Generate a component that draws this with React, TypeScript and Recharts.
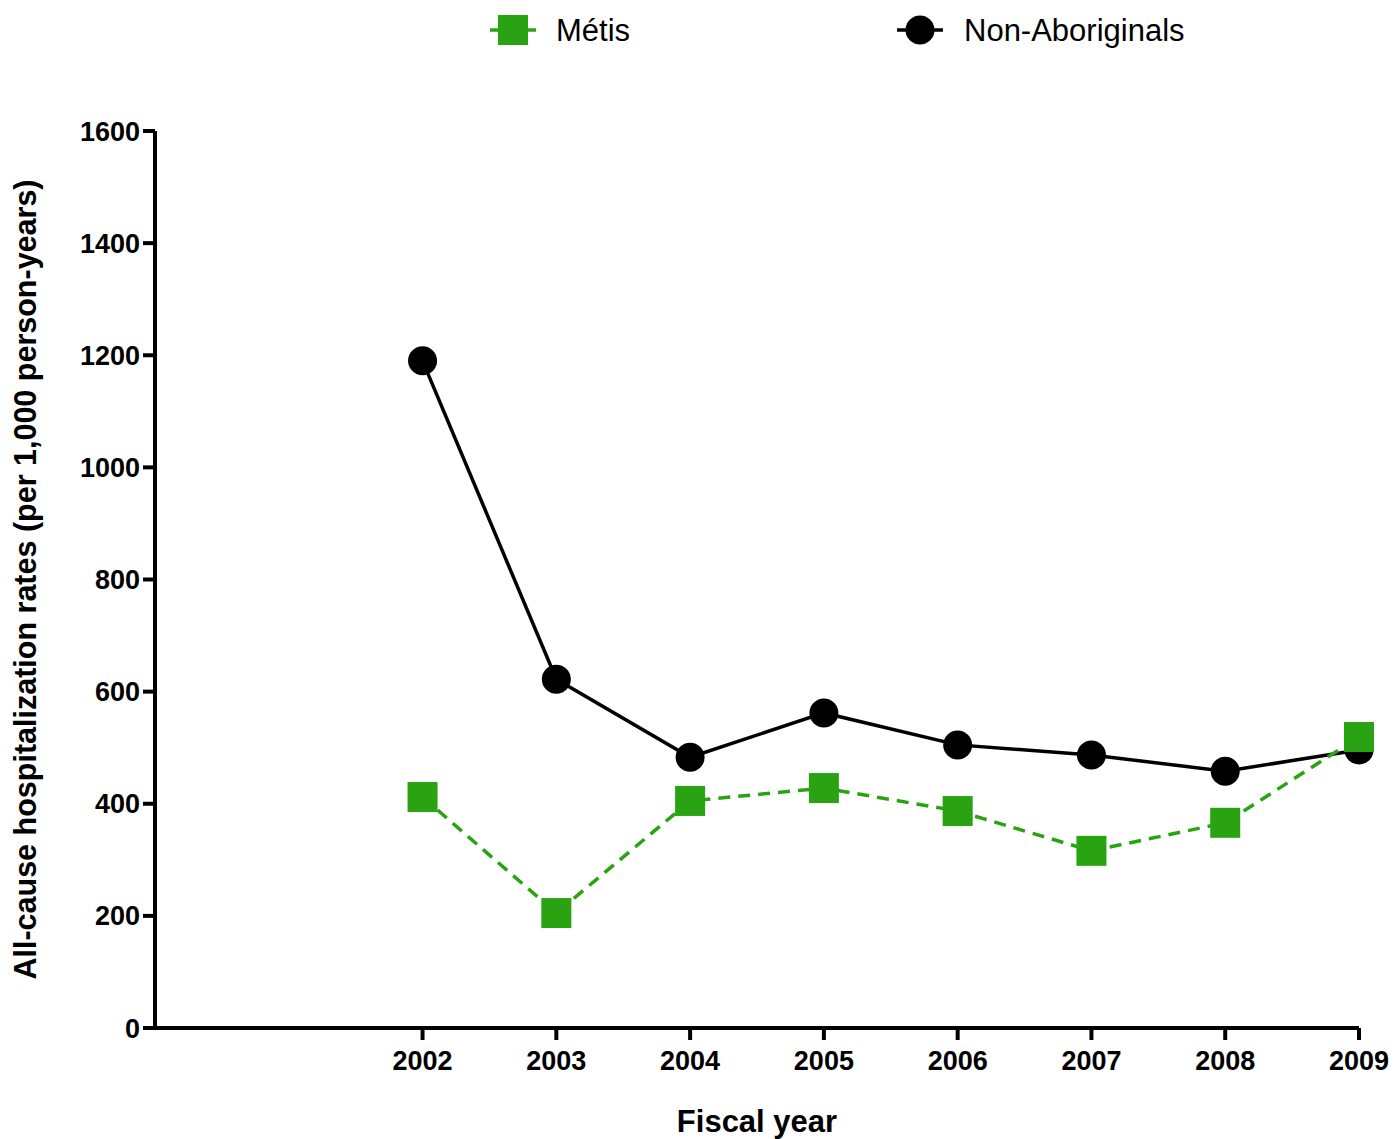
import React from "react";
import { LineChart, Line, XAxis, YAxis } from "recharts";

const years = [2002, 2003, 2004, 2005, 2006, 2007, 2008, 2009];
const metis = [412, 205, 405, 428, 387, 316, 366, 519];
const nonAboriginals = [1190, 622, 483, 562, 505, 487, 458, 496];
const yTicks = [0, 200, 400, 600, 800, 1000, 1200, 1400, 1600];

const data = years.map((y, i) => ({ year: y, metis: metis[i], non: nonAboriginals[i] }));

const GREEN = "#29a312";
const FONT = "'Liberation Sans', Arial, sans-serif";

const SquareDot = (props: any) => {
  const { cx, cy, index } = props;
  if (cx == null || cy == null) return null;
  return <rect key={`sq-${index}`} x={cx - 15} y={cy - 15} width={30} height={30} fill={GREEN} />;
};

const CircleDot = (props: any) => {
  const { cx, cy, index } = props;
  if (cx == null || cy == null) return null;
  return <circle key={`ci-${index}`} cx={cx} cy={cy} r={14.5} fill="#000" />;
};

const LegendBox = () => (
  <svg width={1395} height={60} style={{ position: "absolute", left: 0, top: 0, display: "block" }}>
    <line x1={490} y1={30} x2={536} y2={30} stroke={GREEN} strokeWidth={3.5} />
    <rect x={498} y={15} width={30} height={30} fill={GREEN} />
    <text x={556} y={30} dominantBaseline="central" fontFamily={FONT} fontSize={31} fill="#000">Métis</text>
    <line x1={897} y1={30} x2={943} y2={30} stroke="#000" strokeWidth={3.5} />
    <circle cx={920} cy={30} r={14.5} fill="#000" />
    <text x={964} y={30} dominantBaseline="central" fontFamily={FONT} fontSize={31} fill="#000">Non-Aboriginals</text>
  </svg>
);

export default function App() {
  return (
    <div style={{ position: "absolute", left: 0, top: 0, width: 1395, height: 1139, background: "#fff" }}>
      <LineChart width={1395} height={1139} data={data} margin={{ top: 131, right: 36, bottom: 0, left: 0 }}>
        <XAxis
          dataKey="year"
          type="number"
          domain={[2000, 2009]}
          ticks={years}
          height={111}
          axisLine={{ stroke: "#000", strokeWidth: 4 }}
          tickLine={{ stroke: "#000", strokeWidth: 4 }}
          tickSize={12}
          tickMargin={11}
          tick={{ fill: "#000", fontFamily: FONT, fontSize: 27, fontWeight: "bold" }}
          label={{
            content: (p: any) => {
              const vb = p.viewBox || {};
              return (
                <text x={vb.x + vb.width / 2} y={vb.y + 93} textAnchor="middle" dominantBaseline="central"
                  fontFamily={FONT} fontSize={31} fontWeight="bold" fill="#000">Fiscal year</text>
              );
            },
          }}
        />
        <YAxis
          type="number"
          domain={[0, 1600]}
          ticks={yTicks}
          width={155}
          axisLine={{ stroke: "#000", strokeWidth: 4 }}
          tickLine={{ stroke: "#000", strokeWidth: 4 }}
          tickSize={12}
          tickMargin={3}
          tick={{ fill: "#000", fontFamily: FONT, fontSize: 27, fontWeight: "bold" }}
          label={{
            content: (p: any) => {
              const vb = p.viewBox || {};
              const x = vb.x + 25;
              const y = vb.y + vb.height / 2;
              return (
                <text transform={`translate(${x},${y}) rotate(-90)`} textAnchor="middle" dominantBaseline="central"
                  fontFamily={FONT} fontSize={30.5} fontWeight="bold" fill="#000">
                  All-cause hospitalization rates (per 1,000 person-years)
                </text>
              );
            },
          }}
        />
        <Line dataKey="non" name="Non-Aboriginals" stroke="#000" strokeWidth={3.5} dot={CircleDot} isAnimationActive={false} activeDot={false} />
        <Line dataKey="metis" name="Métis" stroke={GREEN} strokeWidth={3.5} strokeDasharray="12 8" dot={SquareDot} isAnimationActive={false} activeDot={false} />
      </LineChart>
      <LegendBox />
    </div>
  );
}
